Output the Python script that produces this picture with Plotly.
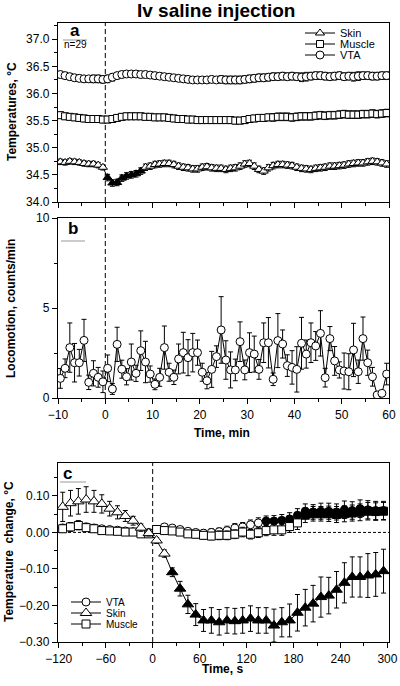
import plotly.graph_objects as go
from plotly.subplots import make_subplots

# ---------------- Panel a: temperatures (°C), 1-min bins ----------------
time_min = [-9.5 + i for i in range(70)]

vta_a = [36.35,36.33,36.31,36.29,36.28,36.27,36.27,36.27,36.27,36.26,
         36.27,36.30,36.33,36.35,36.36,36.36,36.36,36.35,36.35,36.34,
         36.33,36.32,36.31,36.30,36.29,36.28,36.27,36.26,36.25,36.25,
         36.25,36.25,36.26,36.25,36.26,36.25,36.25,36.25,36.25,36.26,
         36.27,36.28,36.29,36.29,36.30,36.31,36.31,36.32,36.31,36.32,
         36.31,36.30,36.31,36.32,36.33,36.33,36.32,36.31,36.32,36.33,
         36.31,36.32,36.31,36.32,36.33,36.33,36.32,36.32,36.33,36.33]
vta_a_err = [0.06,0.06,0.06,0.06,0.06,0.06,0.06,0.07,0.07,0.07,
             0.07,0.07,0.06,0.06,0.06,0.06,0.06,0.06,0.06,0.06,
             0.06,0.06,0.06,0.06,0.06,0.06,0.06,0.06,0.06,0.06,
             0.06,0.06,0.06,0.06,0.07,0.07,0.07,0.07,0.07,0.07,
             0.07,0.07,0.07,0.07,0.07,0.07,0.07,0.07,0.07,0.07,
             0.07,0.08,0.08,0.07,0.07,0.07,0.07,0.07,0.07,0.07,
             0.07,0.07,0.08,0.08,0.07,0.07,0.07,0.07,0.07,0.07]

muscle_a = [35.60,35.58,35.57,35.56,35.55,35.54,35.53,35.53,35.53,35.52,
            35.52,35.53,35.55,35.57,35.58,35.58,35.58,35.58,35.57,35.57,
            35.56,35.56,35.56,35.55,35.54,35.53,35.53,35.52,35.52,35.51,
            35.51,35.51,35.51,35.51,35.51,35.51,35.51,35.50,35.50,35.51,
            35.53,35.54,35.55,35.55,35.56,35.56,35.57,35.57,35.57,35.56,
            35.57,35.58,35.58,35.58,35.59,35.60,35.59,35.60,35.60,35.61,
            35.62,35.61,35.61,35.61,35.62,35.62,35.63,35.62,35.63,35.64]
muscle_a_err = [0.06,0.06,0.06,0.06,0.06,0.06,0.06,0.06,0.06,0.06,
                0.06,0.06,0.06,0.06,0.06,0.06,0.06,0.06,0.06,0.06,
                0.06,0.06,0.06,0.06,0.06,0.06,0.06,0.06,0.06,0.06,
                0.06,0.06,0.06,0.06,0.06,0.06,0.06,0.06,0.06,0.06,
                0.06,0.06,0.06,0.06,0.06,0.07,0.07,0.07,0.07,0.07,
                0.07,0.07,0.07,0.07,0.07,0.07,0.07,0.07,0.07,0.07,
                0.07,0.07,0.07,0.07,0.07,0.07,0.07,0.07,0.07,0.07]

skin_a = [34.74,34.73,34.75,34.74,34.73,34.71,34.70,34.70,34.68,34.64,
          34.45,34.35,34.36,34.44,34.48,34.50,34.52,34.57,34.64,34.66,
          34.69,34.70,34.71,34.71,34.69,34.66,34.64,34.63,34.61,34.61,
          34.64,34.65,34.63,34.62,34.62,34.60,34.62,34.63,34.66,34.70,
          34.71,34.66,34.60,34.57,34.63,34.67,34.69,34.69,34.68,34.67,
          34.64,34.62,34.61,34.60,34.62,34.63,34.64,34.66,34.66,34.67,
          34.68,34.70,34.71,34.72,34.72,34.74,34.75,34.74,34.72,34.70]
skin_a_err = [0.05,0.05,0.05,0.05,0.05,0.05,0.05,0.05,0.05,0.05,
              0.06,0.06,0.06,0.06,0.06,0.06,0.06,0.06,0.06,0.06,
              0.06,0.06,0.06,0.06,0.06,0.06,0.06,0.06,0.06,0.06,
              0.06,0.06,0.06,0.06,0.06,0.06,0.06,0.06,0.06,0.06,
              0.06,0.06,0.06,0.06,0.06,0.06,0.06,0.06,0.06,0.06,
              0.06,0.06,0.06,0.06,0.06,0.06,0.06,0.06,0.06,0.06,
              0.06,0.06,0.06,0.06,0.06,0.06,0.06,0.06,0.06,0.06]
skin_a_sig = [0]*10 + [1]*8 + [0]*52

# ---------------- Panel b: locomotion (counts/min) ----------------
loco = [1.09,1.65,2.80,1.96,1.96,3.20,0.87,1.37,1.15,0.90,
        1.65,0.50,2.98,1.60,1.18,2.00,1.37,2.63,2.00,1.33,
        0.76,1.15,2.80,1.43,1.15,2.17,2.52,2.24,2.52,2.52,
        1.43,0.96,1.59,2.30,3.78,2.11,1.56,1.56,3.13,1.56,
        2.52,2.44,1.59,3.07,3.07,1.04,3.19,3.00,1.80,1.70,
        1.59,3.04,2.44,3.07,2.89,3.59,1.13,3.30,2.06,1.56,
        1.50,1.46,2.67,1.46,3.30,1.96,1.18,0.17,0.26,1.33]
loco_err = [0.55,0.52,1.37,1.07,0.74,1.17,0.40,0.70,0.55,0.60,
            0.74,0.30,0.95,0.50,0.45,1.00,0.45,1.10,1.15,0.45,
            0.30,0.50,1.20,0.50,0.40,0.83,1.13,1.00,1.07,0.70,
            0.50,0.45,1.00,0.60,1.85,1.07,1.00,0.60,1.10,0.55,
            1.10,1.00,0.55,1.10,1.40,0.35,1.50,0.78,0.60,0.93,
            1.26,1.44,0.78,1.10,0.80,1.26,0.52,0.67,0.80,0.45,
            1.00,1.00,1.48,0.65,1.20,0.70,0.52,0.10,0.15,0.60]

# ---------------- Panel c: temperature change (°C), 10-s bins ----------------
time_s = [-115 + 10 * i for i in range(42)]

skin_c = [0.070,0.080,0.085,0.090,0.085,0.078,0.065,0.055,0.045,0.032,
          0.013,-0.002,-0.022,-0.058,-0.109,-0.154,-0.197,-0.225,-0.241,-0.241,
          -0.246,-0.241,-0.243,-0.241,-0.236,-0.241,-0.241,-0.255,-0.246,-0.241,
          -0.220,-0.206,-0.195,-0.177,-0.173,-0.157,-0.138,-0.122,-0.122,-0.118,
          -0.115,-0.106]
skin_c_err = [0.040,0.035,0.035,0.035,0.030,0.025,0.020,0.018,0.015,0.012,
              0.010,0.008,0.008,0.010,0.012,0.020,0.025,0.030,0.030,0.035,
              0.035,0.035,0.035,0.035,0.035,0.035,0.035,0.045,0.040,0.045,
              0.050,0.050,0.050,0.055,0.050,0.050,0.055,0.055,0.055,0.060,
              0.060,0.060]
skin_c_sig = [0]*14 + [1]*28

vta_c = [0.012,0.015,0.020,0.015,0.012,0.010,0.008,0.006,0.004,0.002,
         0.000,0.000,0.008,0.015,0.012,0.008,0.003,0.000,-0.002,0.000,
         0.002,0.005,0.012,0.015,0.021,0.026,0.031,0.031,0.033,0.037,
         0.047,0.058,0.056,0.058,0.058,0.056,0.062,0.060,0.065,0.062,
         0.060,0.060]
vta_c_err = [0.010,0.012,0.012,0.010,0.010,0.008,0.008,0.008,0.008,0.008,
             0.008,0.008,0.008,0.008,0.008,0.008,0.008,0.008,0.010,0.010,
             0.010,0.012,0.012,0.012,0.013,0.014,0.014,0.015,0.016,0.017,
             0.018,0.020,0.020,0.022,0.022,0.022,0.024,0.024,0.024,0.025,
             0.025,0.025]
vta_c_sig = [0]*26 + [1]*16

muscle_c = [0.010,0.015,0.019,0.013,0.010,0.005,0.004,0.003,0.001,0.001,
            -0.004,-0.004,0.008,0.005,0.004,0.001,-0.004,-0.005,-0.008,-0.010,
            -0.008,-0.008,-0.005,0.001,-0.005,-0.001,0.005,0.007,0.007,0.016,
            0.026,0.047,0.051,0.051,0.051,0.049,0.051,0.053,0.055,0.058,
            0.057,0.058]
muscle_c_err = [0.010,0.010,0.012,0.010,0.008,0.008,0.008,0.008,0.008,0.008,
                0.008,0.008,0.008,0.008,0.008,0.008,0.008,0.010,0.010,0.010,
                0.012,0.012,0.012,0.013,0.013,0.013,0.014,0.015,0.015,0.016,
                0.018,0.020,0.020,0.020,0.021,0.022,0.022,0.022,0.023,0.024,
                0.024,0.024]
muscle_c_sig = [0]*31 + [1]*11

FONT = "Liberation Sans, Arial, sans-serif"


def fills(sig):
    return ["black" if s else "white" for s in sig]


def err(arr, minus=None):
    d = dict(type="data", array=arr, visible=True, color="black", thickness=1, width=2.5)
    if minus is not None:
        d["arrayminus"] = minus
    return d


fig = make_subplots(rows=3, cols=1)

# Panel a traces (legend order Skin, Muscle, VTA) - one legend box per entry
fig.add_trace(go.Scatter(x=time_min, y=skin_a, name="Skin", mode="lines+markers",
                         line=dict(color="black", width=1),
                         marker=dict(symbol="triangle-up", size=8, color=fills(skin_a_sig),
                                     line=dict(color="black", width=1)),
                         error_y=err(skin_a_err), legend="legend"), row=1, col=1)
fig.add_trace(go.Scatter(x=time_min, y=muscle_a, name="Muscle", mode="lines+markers",
                         line=dict(color="black", width=1),
                         marker=dict(symbol="square", size=7, color="white",
                                     line=dict(color="black", width=1)),
                         error_y=err(muscle_a_err), legend="legend3"), row=1, col=1)
fig.add_trace(go.Scatter(x=time_min, y=vta_a, name="VTA", mode="lines+markers",
                         line=dict(color="black", width=1),
                         marker=dict(symbol="circle", size=8, color="white",
                                     line=dict(color="black", width=1)),
                         error_y=err(vta_a_err), legend="legend4"), row=1, col=1)

# Panel b
fig.add_trace(go.Scatter(x=time_min, y=loco, mode="lines+markers", showlegend=False,
                         line=dict(color="black", width=1),
                         marker=dict(symbol="circle", size=8, color="white",
                                     line=dict(color="black", width=1)),
                         error_y=err(loco_err, [min(e, v) for e, v in zip(loco_err, loco)])),
              row=2, col=1)

# Panel c (legend order VTA, Skin, Muscle)
fig.add_trace(go.Scatter(x=time_s, y=vta_c, name="VTA", mode="lines+markers",
                         line=dict(color="black", width=1),
                         marker=dict(symbol="circle", size=8, color=fills(vta_c_sig),
                                     line=dict(color="black", width=1)),
                         error_y=err(vta_c_err), legend="legend2"), row=3, col=1)
fig.add_trace(go.Scatter(x=time_s, y=muscle_c, name="Muscle", mode="lines+markers",
                         line=dict(color="black", width=1),
                         marker=dict(symbol="square", size=8, color=fills(muscle_c_sig),
                                     line=dict(color="black", width=1)),
                         error_y=err(muscle_c_err), legend="legend6"), row=3, col=1)
fig.add_trace(go.Scatter(x=time_s, y=skin_c, name="Skin", mode="lines+markers",
                         line=dict(color="black", width=1),
                         marker=dict(symbol="triangle-up", size=10, color=fills(skin_c_sig),
                                     line=dict(color="black", width=1)),
                         error_y=err(skin_c_err), legend="legend5"), row=3, col=1)

# Geometry: plot area from x=58..389 px, panels a 23..202, b 218..398, c 463..642
H = 686
mt, mb = 23, 44
ph = H - mt - mb


def py(pix):
    return (H - mb - pix) / ph


def px(pix):
    return (pix - 58) / 331


ax_common = dict(showline=True, linecolor="black", linewidth=1.3, mirror=True,
                 ticks="outside", ticklen=5, tickwidth=1, tickcolor="black",
                 showgrid=False, zeroline=False,
                 tickfont=dict(family=FONT, size=12, color="black"))


def leg(xp, yp, fs=11):
    return dict(x=px(xp), y=py(yp), xanchor="left", yanchor="middle",
                bgcolor="rgba(0,0,0,0)", borderwidth=0,
                font=dict(family=FONT, size=fs, color="black"), itemwidth=30)


fig.update_layout(
    width=400, height=686,
    margin=dict(l=58, r=11, t=mt, b=mb, autoexpand=False),
    plot_bgcolor="white", paper_bgcolor="white",
    font=dict(family=FONT, color="black"),
    xaxis=dict(domain=[0, 1], range=[-10, 60], dtick=10, showticklabels=False,
               minor=dict(dtick=5, ticks="outside", ticklen=3, tickcolor="black"), **ax_common),
    yaxis=dict(domain=[py(202), 1], range=[34.0, 37.3], dtick=0.5, tickformat=".1f",
               minor=dict(dtick=0.25, ticks="outside", ticklen=3, tickcolor="black"), **ax_common),
    xaxis2=dict(domain=[0, 1], range=[-10, 60], dtick=10,
                minor=dict(dtick=5, ticks="outside", ticklen=3, tickcolor="black"), **ax_common),
    yaxis2=dict(domain=[py(398), py(218)], range=[0, 10], dtick=5,
                minor=dict(dtick=2.5, ticks="outside", ticklen=3, tickcolor="black"), **ax_common),
    xaxis3=dict(domain=[0, 1], range=[-121, 302], tickvals=[-120, -60, 0, 60, 120, 180, 240, 300],
                minor=dict(tickvals=[-90, -30, 30, 90, 150, 210, 270], ticks="outside",
                           ticklen=3, tickcolor="black"), **ax_common),
    yaxis3=dict(domain=[0, py(463)], range=[-0.30, 0.19], dtick=0.1, tickformat=".2f",
                minor=dict(dtick=0.05, ticks="outside", ticklen=3, tickcolor="black"), **ax_common),
    legend=leg(300, 33),
    legend3=leg(300, 44),
    legend4=leg(300, 55),
    legend2=leg(66, 602, 10),
    legend5=leg(66, 613, 10),
    legend6=leg(66, 624, 10),
)

# reference lines
for xr, yr in (("x", "y domain"), ("x2", "y2 domain"), ("x3", "y3 domain")):
    fig.add_shape(type="line", xref=xr, yref=yr, x0=0, x1=0, y0=0, y1=1,
                  line=dict(color="black", width=1, dash="5px,3px"), layer="below")
fig.add_shape(type="line", xref="x3 domain", yref="y3", x0=0, x1=1, y0=0, y1=0,
              line=dict(color="black", width=1, dash="3px,2px"), layer="below")

# Title, panel letters and labels
ann = []
ann.append(dict(text="<b>Iv saline injection</b>", x=px(216), y=py(11), font=dict(size=19)))
ann.append(dict(text="<b>a</b>", x=px(75), y=py(31), font=dict(size=17)))
ann.append(dict(text="n=29", x=px(75), y=py(45), font=dict(size=10)))
ann.append(dict(text="<b>b</b>", x=px(73), y=py(228), font=dict(size=17)))
ann.append(dict(text="<b>c</b>", x=px(67), y=py(473), font=dict(size=17)))
ann.append(dict(text="<b>Temperatures, °C</b>", x=px(12), y=py(112), textangle=-90, font=dict(size=12)))
ann.append(dict(text="<b>Locomotion, counts/min</b>", x=px(11), y=py(308), textangle=-90, font=dict(size=12)))
ann.append(dict(text="<b>Temperature  change, °C</b>", x=px(9), y=py(552), textangle=-90, font=dict(size=12)))
ann.append(dict(text="<b>Time, min</b>", x=px(222), y=py(433), font=dict(size=12)))
ann.append(dict(text="<b>Time, s</b>", x=px(222), y=py(669), font=dict(size=12)))
for a in ann:
    a.update(xref="paper", yref="paper", showarrow=False, xanchor="center", yanchor="middle")
    a["font"].update(family=FONT, color="black")
    fig.add_annotation(**a)

# short gray rules under panel letters
for x0, x1, yy in ((63, 87, 40), (61, 85, 241), (60, 86, 482)):
    fig.add_shape(type="line", xref="paper", yref="paper", x0=px(x0), x1=px(x1),
                  y0=py(yy), y1=py(yy), line=dict(color="#999999", width=1))

fig.write_html("out.html", config={"displayModeBar": False},
               post_script="document.body.style.margin='0px';document.body.style.overflow='hidden';")
